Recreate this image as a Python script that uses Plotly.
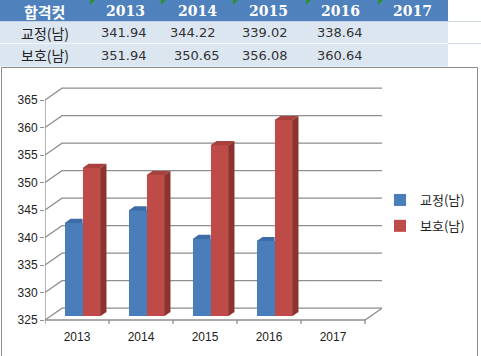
import plotly.graph_objects as go

# ---------------- data ----------------
years = ["2013", "2014", "2015", "2016", "2017"]
gyojeong = [341.94, 344.22, 339.02, 338.64, None]
boho = [351.94, 350.65, 356.08, 360.64, None]
series_names = ["교정(남)", "보호(남)"]
corner_label = "합격컷"
y_ticks = [325, 330, 335, 340, 345, 350, 355, 360, 365]

# ---------------- geometry ----------------
W, H = 481, 356
L, R, T, B = 45, 98, 84, 30
PW, PH = W - L - R, H - T - B
XPX = 64.0          # px per category
YPX = 5.5           # px per value unit
XMIN = -0.5
XMAX = XMIN + PW / XPX
YMIN = y_ticks[0] - 6 / YPX
YMAX = YMIN + PH / YPX
DX = 17 / XPX       # depth offset (x)
DY = 2.15           # depth offset (value units)
F = 0.33            # bar front depth fraction
BD = 0.35           # bar depth fraction
BW = 0.28           # bar width
BASE = y_ticks[0]
N = len(years)

def pxx(x):
    return (x - L) / PW

def pyy(y):
    return (H - B - y) / PH

GRID = "#8E8E8E"
BLUE, BLUE_TOP = "#4A7EBB", "#3D6CA8"
RED, RED_TOP, RED_SIDE = "#BE4B48", "#A8403D", "#8A3331"

fig = go.Figure()

# ---- walls / gridlines (main axes, below bars) ----
gx, gy = [], []
for v in y_ticks:
    gx += [XMIN, XMIN + DX, N - 0.5 + DX, None]
    gy += [v, v + DY, v + DY, None]
fig.add_trace(go.Scatter(x=gx, y=gy, mode="lines", line=dict(color=GRID, width=1.3),
                         showlegend=False, hoverinfo="skip"))
# front vertical axis + floor front edge + right floor edge
fig.add_trace(go.Scatter(
    x=[XMIN, XMIN, None, XMIN, N - 0.5, N - 0.5 + DX],
    y=[y_ticks[-1], BASE, None, BASE, BASE, BASE + DY],
    mode="lines", line=dict(color=GRID, width=1.3), showlegend=False, hoverinfo="skip"))
# category tick marks
tx, ty = [], []
for k in range(N + 1):
    b = XMIN + k
    tx += [b, b, None]
    ty += [BASE, BASE - 4 / YPX, None]
fig.add_trace(go.Scatter(x=tx, y=ty, mode="lines", line=dict(color=GRID, width=1.3),
                         showlegend=False, hoverinfo="skip"))

# ---- bars (overlay axes, above walls) ----
shift = F * DX
base = BASE + F * DY
xs = [i + shift for i in range(N)]
for vals, name, col, off in [(gyojeong, series_names[0], BLUE, -BW),
                             (boho, series_names[1], RED, 0.0)]:
    fig.add_trace(go.Bar(
        x=xs, y=[(v - BASE) if v is not None else None for v in vals],
        base=base, width=BW, offset=off, name=name,
        marker=dict(color=col, line=dict(width=0)),
        xaxis="x2", yaxis="y2", legendgroup=name, hoverinfo="skip"))

sdx, sdy = BD * DX, BD * DY
# tops and sides
bx, by, rtx, rty, rsx, rsy = [], [], [], [], [], []
for i in range(N):
    g, b = gyojeong[i], boho[i]
    c = xs[i]
    if g is not None:
        x0, x1, t = c - BW, c, g + F * DY
        bx += [x0, x1, x1, x0 + sdx, x0, None]
        by += [t, t, t + sdy, t + sdy, t, None]
    if b is not None:
        x0, x1, t = c, c + BW, b + F * DY
        rtx += [x0, x1, x1 + sdx, x0 + sdx, x0, None]
        rty += [t, t, t + sdy, t + sdy, t, None]
        rsx += [x1, x1 + sdx, x1 + sdx, x1, x1, None]
        rsy += [base, base + sdy, t + sdy, t, base, None]
for px_, py_, col in [(bx, by, BLUE_TOP), (rtx, rty, RED_TOP), (rsx, rsy, RED_SIDE)]:
    fig.add_trace(go.Scatter(x=px_, y=py_, mode="lines", fill="toself", fillcolor=col,
                             line=dict(width=0, color=col), showlegend=False,
                             hoverinfo="skip", xaxis="x2", yaxis="y2"))

# ---------------- table (above chart) ----------------
shapes = []
annotations = []
col_edges = [0, 89, 160, 232, 305, 377, 448]
shapes.append(dict(type="rect", xref="paper", yref="paper", x0=pxx(0), x1=pxx(448),
                   y0=pyy(0), y1=pyy(21.5), fillcolor="#4F81BD", line=dict(width=0), layer="below"))
shapes.append(dict(type="rect", xref="paper", yref="paper", x0=pxx(0), x1=pxx(448),
                   y0=pyy(21.5), y1=pyy(66.5), fillcolor="#DCE6F1", line=dict(width=0), layer="below"))
shapes.append(dict(type="line", xref="paper", yref="paper", x0=pxx(0), x1=pxx(448),
                   y0=pyy(43.5), y1=pyy(43.5), line=dict(color="#F2F6FA", width=1)))
for yy in [21.5, 43.5]:
    shapes.append(dict(type="line", xref="paper", yref="paper", x0=pxx(448), x1=pxx(481),
                       y0=pyy(yy), y1=pyy(yy), line=dict(color="#D0D7E5", width=1)))
# green indicator triangles
for e in col_edges[1:-1]:
    x0, x1 = pxx(e + 1), pxx(e + 6)
    y0, y1 = pyy(0), pyy(5)
    shapes.append(dict(type="path", xref="paper", yref="paper",
                       path=f"M {x0},{y0} L {x1},{y0} L {x0},{y1} Z",
                       fillcolor="#2F8F2F", line=dict(width=0)))
# chart frame
shapes.append(dict(type="rect", xref="paper", yref="paper", x0=pxx(1.5), x1=pxx(477.5),
                   y0=pyy(67.5), y1=pyy(380), line=dict(color="#8C8C8C", width=1),
                   fillcolor="rgba(0,0,0,0)", layer="below"))

KR = "Noto Sans CJK KR"

def ann(text, x, y, font):
    annotations.append(dict(text=text, x=pxx(x), y=pyy(y), xref="paper", yref="paper",
                            xanchor="center", yanchor="middle", showarrow=False, font=font))

ann(f"<b>{corner_label}</b>", 44, 11, dict(family=KR, size=15, color="white"))
hdr_x = [125, 197, 268, 340, 412]
for yr, cx in zip(years, hdr_x):
    ann(f"<b>{yr}</b>", cx, 11.5, dict(family="DejaVu Serif", size=14, color="white"))
row_y = [33, 55]
val_x = [[124, 193, 265, 340], [124, 197, 265, 340]]
for r, (nm, vals) in enumerate([(series_names[0], gyojeong), (series_names[1], boho)]):
    ann(nm, 45, row_y[r], dict(family=KR, size=14, color="#222222"))
    for j, v in enumerate(vals):
        if v is None:
            continue
        ann(f"{v:.2f}", val_x[r][j], row_y[r], dict(family="DejaVu Sans", size=13, color="#333333"))

fig.update_layout(
    width=W, height=H,
    margin=dict(l=L, r=R, t=T, b=B, pad=0, autoexpand=False),
    paper_bgcolor="white", plot_bgcolor="rgba(0,0,0,0)",
    barmode="overlay", bargap=0,
    showlegend=True,
    legend=dict(x=pxx(380), y=pyy(213), xanchor="left", yanchor="middle",
                font=dict(family=KR, size=13, color="#222222"),
                traceorder="grouped", tracegroupgap=6, bgcolor="rgba(0,0,0,0)",
                itemclick=False, itemdoubleclick=False),
    xaxis=dict(range=[XMIN, XMAX], tickvals=list(range(N)), ticktext=years,
               ticks="", showgrid=False, zeroline=False, showline=False,
               ticklabelstandoff=2,
               tickfont=dict(family="Liberation Sans", size=12, color="#222222")),
    yaxis=dict(range=[YMIN, YMAX], tickvals=y_ticks, ticks="outside", ticklen=4,
               tickcolor=GRID, tickwidth=1.3, showgrid=False, zeroline=False, showline=False,
               tickfont=dict(family="Liberation Sans", size=12, color="#222222")),
    xaxis2=dict(range=[XMIN, XMAX], overlaying="x", visible=False),
    yaxis2=dict(range=[YMIN, YMAX], overlaying="y", visible=False),
    shapes=shapes, annotations=annotations,
)

fig.write_html("out.html", config={"displayModeBar": False},
               post_script="document.body.style.margin='0';document.body.style.overflow='hidden';")
